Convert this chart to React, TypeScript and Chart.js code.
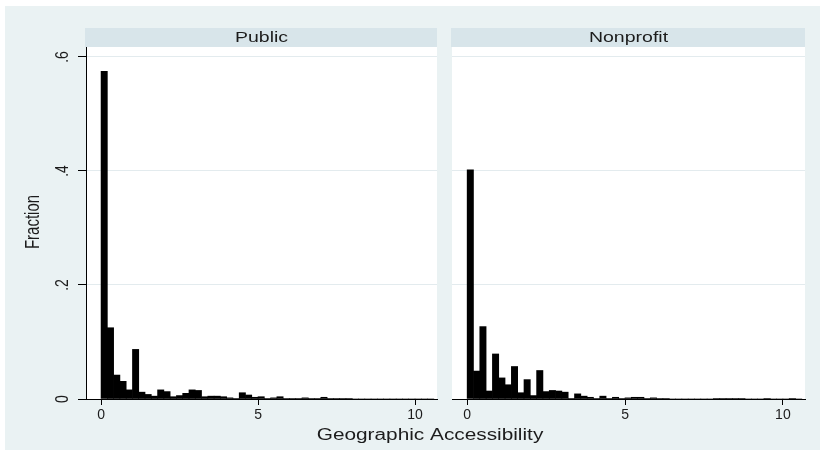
import React, { useEffect, useRef } from 'react';
import { Chart, registerables } from 'chart.js';

Chart.register(...registerables);

// ---- data ----
const BIN_WIDTH = 0.2;
const panelTitles = ['Public', 'Nonprofit'];
const publicFraction = [
  0.575, 0.125, 0.042, 0.031, 0.016, 0.087, 0.012, 0.008, 0.005, 0.016,
  0.013, 0.004, 0.006, 0.010, 0.016, 0.015, 0.004, 0.005, 0.005, 0.004,
  0.002, 0.001, 0.011, 0.007, 0.003, 0.004, 0.001, 0.002, 0.004, 0.001,
  0.001, 0.001, 0.002, 0.001, 0.001, 0.003, 0.001, 0.001, 0.001, 0.001,
  0, 0, 0, 0, 0, 0, 0, 0, 0, 0,
  0, 0, 0,
];
const nonprofitFraction = [
  0.402, 0.049, 0.127, 0.014, 0.079, 0.037, 0.025, 0.057, 0.011, 0.034,
  0.006, 0.050, 0.013, 0.015, 0.014, 0.012, 0.001, 0.009, 0.005, 0.003,
  0.001, 0.005, 0.001, 0.003, 0.001, 0.002, 0.003, 0.003, 0.001, 0.002,
  0.001, 0.001, 0, 0, 0, 0, 0, 0, 0, 0.001,
  0.001, 0.001, 0.001, 0.001, 0, 0, 0, 0.001, 0, 0,
  0, 0.001, 0,
];
const xTickValues = [0, 5, 10];
const yTickValues = [0, 0.2, 0.4, 0.6];
const yTickLabels = ['0', '.2', '.4', '.6'];
const yTitle = 'Fraction';
const xTitle = 'Geographic Accessibility';

// ---- style ----
const FONT = "'Liberation Sans', Arial, sans-serif";
const GRAPH_BG = '#eaf2f3';
const STRIP_BG = '#d8e5ea';
const GRID = '#e3ebee';
const TEXT = '#1c1c1c';
const STRETCH = 1.3;
const X_MIN = -0.48;
const X_MAX = 10.7;
const Y_MAX = 0.6175;

function toPoints(values: number[]) {
  return values.map((v, i) => ({ x: i * BIN_WIDTH + BIN_WIDTH / 2, y: v }));
}

function stretchedText(ctx: CanvasRenderingContext2D, text: string, x: number, y: number, size: number, rotate = false) {
  ctx.save();
  ctx.translate(x, y);
  if (rotate) {
    ctx.rotate(-Math.PI / 2);
    ctx.scale(1, STRETCH);
  } else {
    ctx.scale(STRETCH, 1);
  }
  ctx.font = `${size}px ${FONT}`;
  ctx.fillStyle = TEXT;
  ctx.textAlign = 'center';
  ctx.textBaseline = 'middle';
  ctx.fillText(text, 0, 0);
  ctx.restore();
}

function makePlugin(title: string, isFirst: boolean) {
  return {
    id: 'panelDecor',
    beforeDraw(chart: any) {
      const { ctx, chartArea: a } = chart;
      ctx.save();
      ctx.fillStyle = '#ffffff';
      ctx.fillRect(a.left, a.top, a.right - a.left, a.bottom - a.top);
      ctx.fillStyle = STRIP_BG;
      ctx.fillRect(a.left - 1, 28, a.right - a.left + 1, a.top - 28);
      ctx.restore();
      stretchedText(ctx, title, (a.left + a.right) / 2, 38, 15);
    },
    afterDraw(chart: any) {
      if (!isFirst) return;
      const { ctx } = chart;
      const ys = chart.scales.y;
      yTickValues.forEach((v, i) => {
        stretchedText(ctx, yTickLabels[i], 63, ys.getPixelForValue(v), 14, true);
      });
      stretchedText(ctx, yTitle, 34, 222, 15, true);
      stretchedText(ctx, xTitle, 430, 436, 16);
    },
  };
}

function buildConfig(values: number[], title: string, isFirst: boolean, padding: any): any {
  return {
    type: 'bar',
    data: {
      datasets: [
        {
          data: toPoints(values),
          backgroundColor: '#000000',
          borderWidth: 0,
          barPercentage: 1,
          categoryPercentage: 1,
        },
      ],
    },
    options: {
      animation: false,
      responsive: false,
      maintainAspectRatio: false,
      layout: { padding },
      plugins: { legend: { display: false }, tooltip: { enabled: false } },
      scales: {
        x: {
          type: 'linear',
          min: X_MIN,
          max: X_MAX,
          offset: false,
          afterBuildTicks: (s: any) => {
            s.ticks = xTickValues.map((v) => ({ value: v }));
          },
          afterFit: (s: any) => {
            s.height = 57;
          },
          grid: {
            drawOnChartArea: false,
            drawTicks: true,
            tickLength: 6,
            tickColor: '#000000',
            offset: false,
          },
          border: { display: true, color: '#000000', width: 1 },
          ticks: {
            display: true,
            autoSkip: false,
            maxRotation: 0,
            padding: 2,
            color: TEXT,
            font: { family: FONT, size: 14 },
            callback: (v: any) => String(v),
          },
        },
        y: {
          type: 'linear',
          min: 0,
          max: Y_MAX,
          afterBuildTicks: (s: any) => {
            s.ticks = yTickValues.map((v) => ({ value: v }));
          },
          afterFit: (s: any) => {
            s.width = isFirst ? 86 : 0;
          },
          grid: {
            drawOnChartArea: true,
            color: GRID,
            lineWidth: 1,
            drawTicks: isFirst,
            tickLength: 8,
            tickColor: '#000000',
          },
          border: { display: isFirst, color: '#000000', width: 1 },
          ticks: { display: false },
        },
      },
    },
    plugins: [makePlugin(title, isFirst)],
  };
}

export default function App() {
  const leftRef = useRef<HTMLCanvasElement | null>(null);
  const rightRef = useRef<HTMLCanvasElement | null>(null);

  useEffect(() => {
    const c1 = new Chart(
      leftRef.current as HTMLCanvasElement,
      buildConfig(publicFraction, panelTitles[0], true, { top: 47, left: 0, right: 825 - 437, bottom: 0 })
    );
    const c2 = new Chart(
      rightRef.current as HTMLCanvasElement,
      buildConfig(nonprofitFraction, panelTitles[1], false, { top: 47, left: 7, right: 20, bottom: 0 })
    );
    return () => {
      c1.destroy();
      c2.destroy();
    };
  }, []);

  return (
    <div style={{ position: 'absolute', left: 0, top: 0, width: 825, height: 456, background: '#ffffff', overflow: 'hidden' }}>
      <div style={{ position: 'absolute', left: 5, top: 6, width: 815, height: 444, background: GRAPH_BG }} />
      <canvas ref={leftRef} width={825} height={456} style={{ position: 'absolute', left: 0, top: 0, width: 825, height: 456 }} />
      <canvas ref={rightRef} width={380} height={456} style={{ position: 'absolute', left: 445, top: 0, width: 380, height: 456 }} />
    </div>
  );
}
